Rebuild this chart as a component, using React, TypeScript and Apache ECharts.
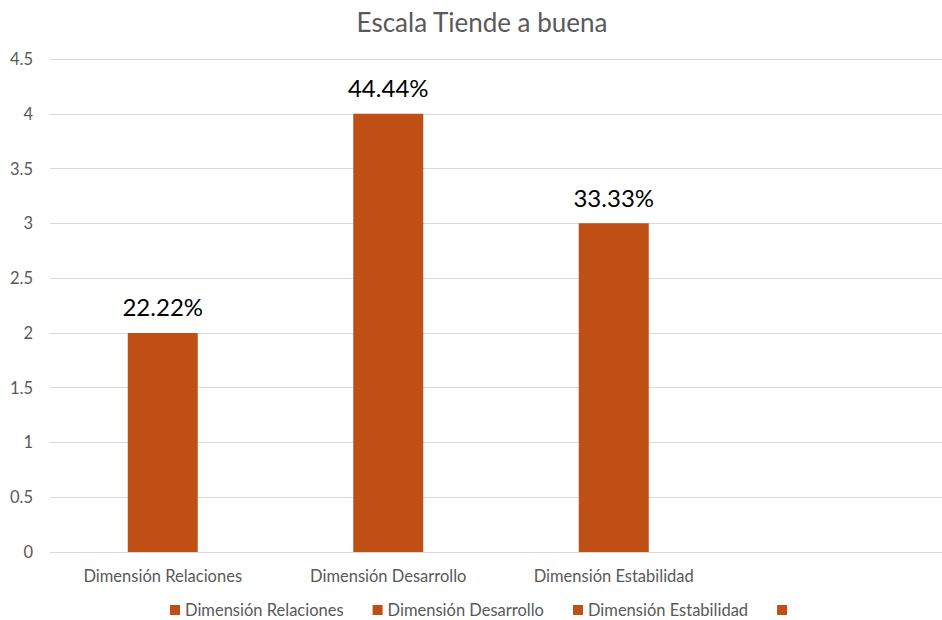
import React, { useEffect, useRef } from "react";
import * as echarts from "echarts";

const titleText = "Escala Tiende a buena";
const categories = ["Dimensión Relaciones", "Dimensión Desarrollo", "Dimensión Estabilidad", ""];
const seriesNames = ["Dimensión Relaciones", "Dimensión Desarrollo", "Dimensión Estabilidad", " "];
const values = [2, 4, 3];
const pctLabels = ["22.22%", "44.44%", "33.33%"];
const yTicks = { min: 0, max: 4.5, interval: 0.5 };

const BAR = "#C04F15";
const FONT = "Lato, 'Liberation Sans', sans-serif";

export default function App() {
  const ref = useRef<HTMLDivElement>(null);
  useEffect(() => {
    if (!ref.current) return;
    const chart = echarts.init(ref.current, undefined, { renderer: "svg" });
    const series = seriesNames.map((name, si) => ({
      name,
      type: "bar" as const,
      barWidth: 70,
      barGap: "-100%",
      itemStyle: { color: BAR },
      data: categories.map((_, ci) => (ci === si && si < values.length ? values[si] : "-")),
      label: {
        show: si < values.length,
        position: "top" as const,
        distance: 14,
        color: "#000000",
        fontSize: 24,
        fontFamily: FONT,
        formatter: () => pctLabels[si] ?? "",
      },
    }));
    chart.setOption({
      animation: false,
      backgroundColor: "#ffffff",
      textStyle: { fontFamily: FONT },
      title: {
        text: titleText,
        left: 477,
        textAlign: "center",
        top: 4,
        textStyle: { color: "#595959", fontSize: 26, fontWeight: "normal", fontFamily: FONT },
      },
      legend: {
        left: 170,
        top: 601,
        padding: 0,
        icon: "rect",
        itemWidth: 10,
        itemHeight: 10,
        itemGap: 29,
        textStyle: { color: "#595959", fontSize: 16.5, lineHeight: 18, fontFamily: FONT },
        data: seriesNames,
      },
      grid: { left: 50, top: 59, width: 902, height: 493, containLabel: false },
      xAxis: {
        type: "category",
        data: categories,
        axisLine: { lineStyle: { color: "#d9d9d9" } },
        axisTick: { show: false },
        axisLabel: { color: "#595959", fontSize: 16.5, margin: 15, fontFamily: FONT },
      },
      yAxis: {
        type: "value",
        min: yTicks.min,
        max: yTicks.max,
        interval: yTicks.interval,
        axisLine: { show: false },
        axisTick: { show: false },
        splitLine: { lineStyle: { color: "#d9d9d9" } },
        axisLabel: { color: "#595959", fontSize: 16.5, margin: 17, fontFamily: FONT },
      },
      series,
    });
    return () => chart.dispose();
  }, []);
  return (
    <div style={{ position: "fixed", left: 0, top: 0, width: 942, height: 620, overflow: "hidden", background: "#fff" }}>
      <div ref={ref} style={{ width: 960, height: 620 }} />
    </div>
  );
}
